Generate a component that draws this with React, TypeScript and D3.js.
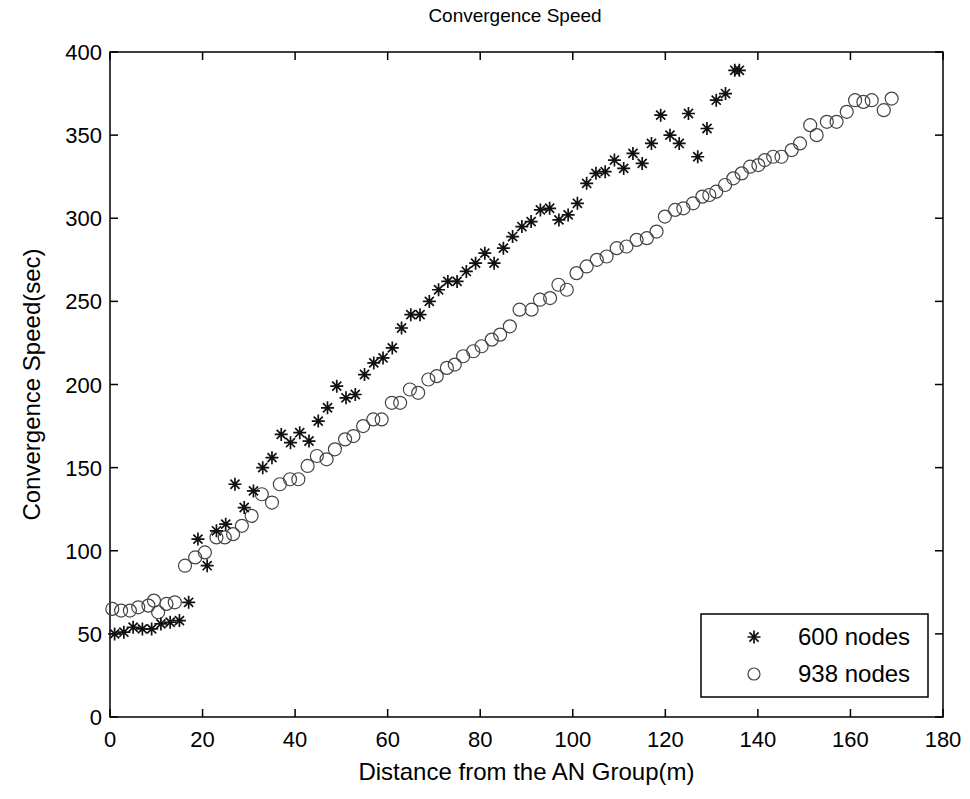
import React, { useEffect, useRef } from 'react';
import * as d3 from 'd3';

// ==== data

const xTicks = [0, 20, 40, 60, 80, 100, 120, 140, 160, 180];
const yTicks = [0, 50, 100, 150, 200, 250, 300, 350, 400];

// 600 nodes (asterisks)
const starX = [1, 3, 5, 7, 9, 11, 13, 15, 17, 19, 21, 23, 25, 27, 29, 31, 33, 35, 37, 39, 41, 43, 45, 47, 49, 51, 53, 55, 57, 59, 61, 63, 65, 67, 69, 71, 73, 75, 77, 79, 81, 83, 85, 87, 89, 91, 93, 95, 97, 99, 101, 103, 105, 107, 109, 111, 113, 115, 117, 119, 121, 123, 125, 127, 129, 131, 133, 135, 136];
const starY = [50, 51, 54, 53, 53, 56, 57, 58, 69, 107, 91, 112, 116, 140, 126, 136, 150, 156, 170, 165, 171, 166, 178, 186, 199, 192, 194, 206, 213, 216, 222, 234, 242, 242, 250, 257, 262, 262, 268, 273, 279, 273, 282, 289, 295, 298, 305, 306, 299, 302, 309, 321, 327, 328, 335, 330, 339, 333, 345, 362, 350, 345, 363, 337, 354, 371, 375, 389, 389];

// 938 nodes (circles)
const circX = [0.5, 2.4, 4.3, 6.1, 8.3, 9.5, 10.4, 12.2, 14, 16.2, 18.4, 20.5, 23, 24.8, 26.6, 28.5, 30.6, 32.8, 35, 36.7, 38.9, 40.7, 42.7, 44.7, 46.8, 48.6, 50.8, 52.6, 54.7, 56.9, 58.7, 60.9, 62.7, 64.8, 66.6, 68.8, 70.6, 72.8, 74.5, 76.3, 78.5, 80.3, 82.5, 84.3, 86.4, 88.5, 91.1, 92.9, 95.1, 96.9, 98.7, 100.8, 103, 105.2, 107.3, 109.5, 111.6, 113.8, 116, 118.1, 119.9, 122.1, 123.9, 126, 128, 129.5, 131, 132.9, 134.7, 136.5, 138.3, 140.1, 141.5, 143.3, 145.1, 147.3, 149.1, 151.3, 152.7, 154.9, 157, 159.2, 161, 162.8, 164.6, 167.2, 168.9];
const circY = [65, 64, 64, 66, 67, 70, 63, 68, 69, 91, 96, 99, 108, 108, 110, 115, 121, 134, 129, 140, 143, 143, 151, 157, 155, 161, 167, 169, 175, 179, 179, 189, 189, 197, 195, 203, 205, 210, 212, 217, 220, 223, 227, 230, 235, 245, 245, 251, 252, 260, 257, 267, 271, 275, 277, 282, 283, 287, 288, 292, 301, 305, 306, 309, 313, 314, 316, 320, 324, 327, 331, 332, 335, 337, 337, 341, 345, 356, 350, 358, 358, 364, 371, 370, 371, 365, 372];

const seriesNames = ['600 nodes', '938 nodes'];

// ====

const W = 970;
const H = 799;
const FONT = "'Liberation Sans', Arial, sans-serif";

function drawStar(g: any, cx: number, cy: number, r: number) {
    const d = r * 0.7;
    const p = `M${cx - r},${cy}L${cx + r},${cy}M${cx},${cy - r}L${cx},${cy + r}` +
        `M${cx - d},${cy - d}L${cx + d},${cy + d}M${cx - d},${cy + d}L${cx + d},${cy - d}`;
    g.append('path').attr('d', p).attr('stroke', '#111').attr('stroke-width', 1.7).attr('fill', 'none');
}

export default function App() {
    const ref = useRef<SVGSVGElement>(null);

    useEffect(() => {
        const svg = d3.select(ref.current);
        svg.selectAll('*').remove();

        const left = 110, right = 943, top = 52, bottom = 717;
        const x = d3.scaleLinear().domain([0, 180]).range([left, right]);
        const y = d3.scaleLinear().domain([0, 400]).range([bottom, top]);

        svg.append('rect').attr('width', W).attr('height', H).attr('fill', '#fff');

        // frame
        svg.append('rect')
            .attr('x', left).attr('y', top)
            .attr('width', right - left).attr('height', bottom - top)
            .attr('fill', 'none').attr('stroke', '#000').attr('stroke-width', 1.5);

        const tickLen = 8;
        const ticks = svg.append('g').attr('stroke', '#000').attr('stroke-width', 1.5);
        xTicks.forEach((t) => {
            ticks.append('line').attr('x1', x(t)).attr('x2', x(t)).attr('y1', bottom).attr('y2', bottom - tickLen);
            ticks.append('line').attr('x1', x(t)).attr('x2', x(t)).attr('y1', top).attr('y2', top + tickLen);
        });
        yTicks.forEach((t) => {
            ticks.append('line').attr('x1', left).attr('x2', left + tickLen).attr('y1', y(t)).attr('y2', y(t));
            ticks.append('line').attr('x1', right).attr('x2', right - tickLen).attr('y1', y(t)).attr('y2', y(t));
        });

        svg.append('g').selectAll('text').data(xTicks).enter().append('text')
            .attr('x', (d) => x(d)).attr('y', bottom + 30)
            .attr('text-anchor', 'middle')
            .attr('font-family', FONT).attr('font-size', 22)
            .text((d) => d);

        svg.append('g').selectAll('text').data(yTicks).enter().append('text')
            .attr('x', left - 8).attr('y', (d) => y(d) + 8)
            .attr('text-anchor', 'end')
            .attr('font-family', FONT).attr('font-size', 22)
            .text((d) => d);

        // title and labels
        svg.append('text')
            .attr('x', 515).attr('y', 22)
            .attr('text-anchor', 'middle')
            .attr('font-family', FONT).attr('font-size', 19)
            .text('Convergence Speed');

        svg.append('text')
            .attr('x', (left + right) / 2).attr('y', 780)
            .attr('text-anchor', 'middle')
            .attr('font-family', FONT).attr('font-size', 24)
            .text('Distance from the AN Group(m)');

        svg.append('text')
            .attr('transform', `translate(40,${(top + bottom) / 2}) rotate(-90)`)
            .attr('text-anchor', 'middle')
            .attr('font-family', FONT).attr('font-size', 24)
            .text('Convergence Speed(sec)');

        // circles
        const circData = circX.map((v, i) => ({ x: v, y: circY[i] }));
        svg.append('g').selectAll('circle').data(circData).enter().append('circle')
            .attr('cx', (d) => x(d.x)).attr('cy', (d) => y(d.y)).attr('r', 6.5)
            .attr('fill', 'none').attr('stroke', '#444').attr('stroke-width', 1.2);

        // stars
        const gs = svg.append('g');
        starX.forEach((v, i) => drawStar(gs, x(v), y(starY[i]), 6.5));

        // legend
        const lg = svg.append('g');
        lg.append('rect')
            .attr('x', 701).attr('y', 614).attr('width', 227).attr('height', 83)
            .attr('fill', '#fff').attr('stroke', '#000').attr('stroke-width', 1.5);
        drawStar(lg, 754, 637, 6.5);
        lg.append('circle').attr('cx', 754).attr('cy', 674).attr('r', 6)
            .attr('fill', 'none').attr('stroke', '#444').attr('stroke-width', 1.2);
        seriesNames.forEach((s, i) => {
            lg.append('text')
                .attr('x', 798).attr('y', 645 + i * 37)
                .attr('font-family', FONT).attr('font-size', 24)
                .text(s);
        });
    }, []);

    return (
        <svg ref={ref} width={W} height={H} style={{ display: 'block', margin: '-8px' }}></svg>
    );
}
